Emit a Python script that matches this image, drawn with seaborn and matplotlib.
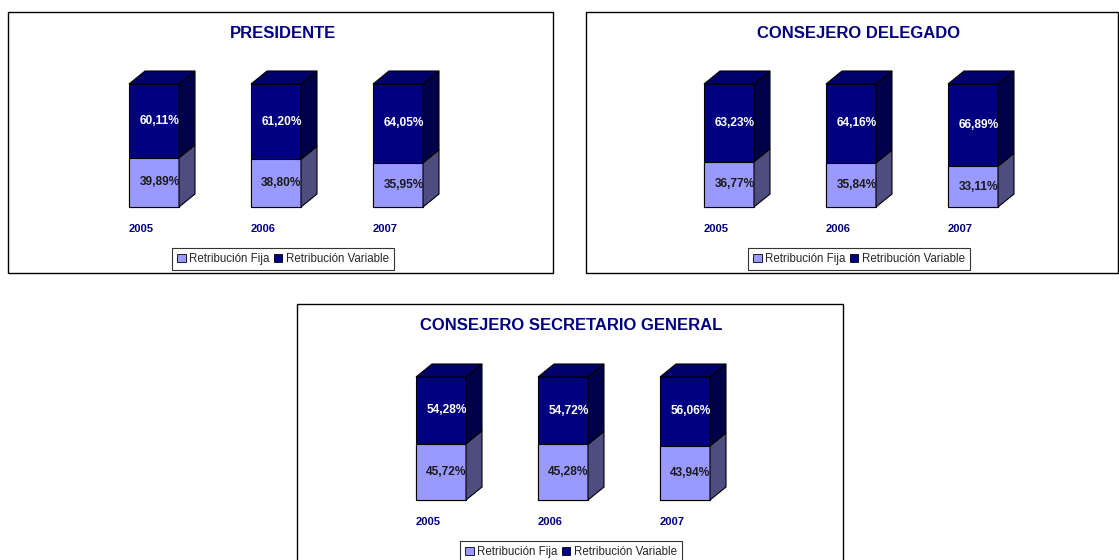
import numpy as np
import pandas as pd
import seaborn as sns
import matplotlib.pyplot as plt
from matplotlib.patches import Rectangle, Polygon, Patch

sns.set_theme(style='white')
plt.rcParams['font.family'] = ['Liberation Sans', 'DejaVu Sans']

# datos
years = ['2005', '2006', '2007']
titulos = ['PRESIDENTE', 'CONSEJERO DELEGADO', 'CONSEJERO SECRETARIO GENERAL']
fija_pres = [39.89, 38.80, 35.95]
var_pres = [60.11, 61.20, 64.05]
fija_cd = [36.77, 35.84, 33.11]
var_cd = [63.23, 64.16, 66.89]
fija_csg = [45.72, 45.28, 43.94]
var_csg = [54.28, 54.72, 56.06]
series_fija = [fija_pres, fija_cd, fija_csg]
series_var = [var_pres, var_cd, var_csg]
leyenda = ['Retribución Fija', 'Retribución Variable']

# colores
c_fija = '#9999FF'
c_fija_lado = '#4D4D80'
c_var = '#000080'
c_var_lado = '#00004A'
c_var_arriba = '#000068'
azul_txt = '#000080'

W, H = 1119, 560
fig = plt.figure(figsize=(W / 100, H / 100), dpi=100)

# cajas de los paneles (px desde arriba)
cajas = [(8, 12, 553, 273), (586, 12, 1118, 273), (297, 304, 843, 590)]
bar_left = [129, 704, 416]
bar_top = [84, 84, 377]
bar_bottom = [207, 207, 500]
title_x = [283, 859, 571]
paso = 122
ancho_px = 50
dx_px, dy_px = 16, 13

for k in range(3):
    x0, y0, x1, y1 = cajas[k]
    fig.patches.append(Rectangle((x0 / W, 1 - y1 / H), (x1 - x0) / W, (y1 - y0) / H,
                                 transform=fig.transFigure, fill=False,
                                 edgecolor='black', linewidth=1.0))
    fig.text(title_x[k] / W, 1 - (y0 + 21) / H, titulos[k], ha='center', va='center',
             fontsize=12, fontweight='bold', color=azul_txt)

    c0 = bar_left[k] + ancho_px / 2
    alto = bar_bottom[k] - bar_top[k]
    ax = fig.add_axes([(c0 - paso / 2) / W, 1 - bar_bottom[k] / H, 3 * paso / W, alto / H])

    df = pd.DataFrame({'year': years, 'fija': series_fija[k], 'var': series_var[k]})
    df['total'] = df['fija'] + df['var']
    w = ancho_px / paso
    sns.barplot(data=df, x='year', y='total', color=c_var, saturation=1, width=w,
                edgecolor='black', linewidth=0.8, ax=ax)
    sns.barplot(data=df, x='year', y='fija', color=c_fija, saturation=1, width=w,
                edgecolor='black', linewidth=0.8, ax=ax)
    for p in ax.patches:
        p.set_clip_on(False)
    ax.set_xlim(-0.5, 2.5)
    ax.set_ylim(0, 100)
    ax.axis('off')

    dx = dx_px / paso
    dy = dy_px / alto * 100
    for i, row in df.iterrows():
        xl = i - w / 2
        xr = i + w / 2
        f = row['fija']
        t = row['total']
        caras = [
            ([(xr, 0), (xr + dx, dy), (xr + dx, f + dy), (xr, f)], c_fija_lado),
            ([(xr, f), (xr + dx, f + dy), (xr + dx, t + dy), (xr, t)], c_var_lado),
            ([(xl, t), (xl + dx, t + dy), (xr + dx, t + dy), (xr, t)], c_var_arriba),
        ]
        for pts, col in caras:
            ax.add_patch(Polygon(pts, closed=True, facecolor=col, edgecolor='black',
                                 linewidth=0.8, clip_on=False))
        off = 5.5 / paso
        ax.text(i + off, f / 2, f'{f:.2f}%'.replace('.', ','), ha='center', va='center',
                fontsize=8.6, fontweight='bold', color='#1a1a1a')
        ax.text(i + off, f + row['var'] / 2, f'{row["var"]:.2f}%'.replace('.', ','),
                ha='center', va='center', fontsize=8.6, fontweight='bold', color='white')
        ax.text(xl, -22 / alto * 100, row['year'], ha='left', va='center',
                fontsize=8, fontweight='bold', color=azul_txt, clip_on=False)

    handles = [Patch(facecolor=c_fija, edgecolor='black', linewidth=0.6),
               Patch(facecolor=c_var, edgecolor='black', linewidth=0.6)]
    leg = fig.legend(handles, leyenda, loc='center',
                     bbox_to_anchor=(title_x[k] / W, 1 - (bar_bottom[k] + 52) / H),
                     ncol=2, frameon=True, fancybox=False, fontsize=8.3,
                     handlelength=0.7, handleheight=0.7, handletextpad=0.3,
                     columnspacing=0.4, borderpad=0.45, borderaxespad=0)
    leg.get_frame().set_edgecolor('black')
    leg.get_frame().set_linewidth(0.8)

plt.savefig('out.png', dpi=100, facecolor='white')
